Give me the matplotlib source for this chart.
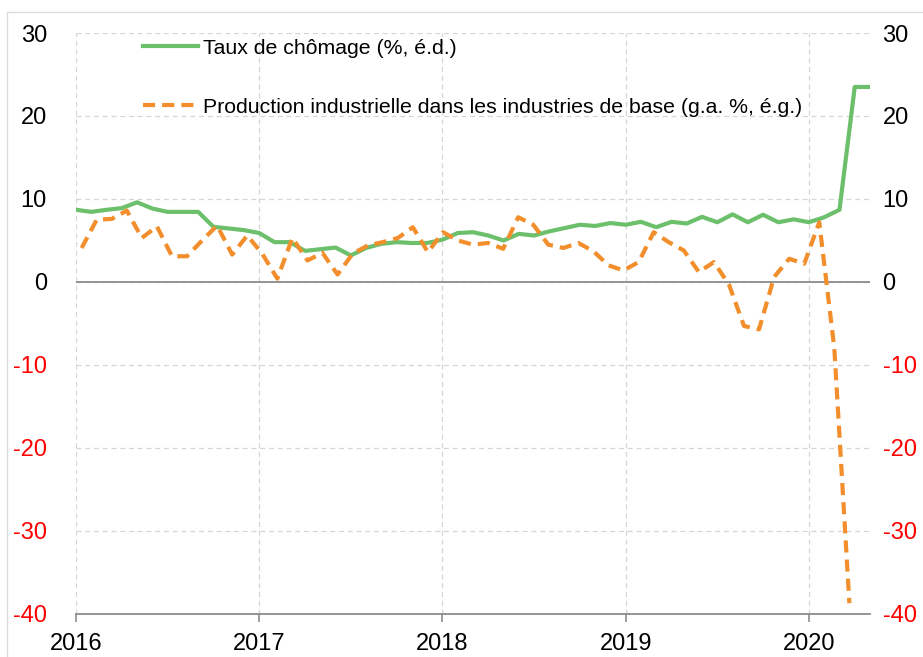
import numpy as np
import matplotlib
matplotlib.use('Agg')
import matplotlib.pyplot as plt
from matplotlib.patches import Rectangle

plt.rcParams['font.family'] = ['Liberation Sans', 'DejaVu Sans']

# monthly, Jan 2016 -> May 2020
chomage = [8.7, 8.45, 8.7, 8.9, 9.6, 8.85, 8.45, 8.45, 8.45, 6.65, 6.45, 6.25,
           5.9, 4.8, 4.8, 3.75, 3.95, 4.15, 3.2, 4.1, 4.6, 4.8, 4.7, 4.7,
           5.1, 5.9, 6.0, 5.6, 5.0, 5.8, 5.6, 6.1, 6.5, 6.9, 6.75, 7.1,
           6.9, 7.25, 6.6, 7.25, 7.05, 7.85, 7.2, 8.15, 7.2, 8.1, 7.2, 7.55,
           7.2, 7.8, 8.7, 23.5, 23.5]

# monthly, Jan 2016 -> Apr 2020 (secondary category axis)
production = [4.1, 7.5, 7.6, 8.6, 5.3, 6.7, 3.1, 3.1, 5.0, 6.8, 3.3, 5.6,
              3.4, 0.4, 5.3, 2.6, 3.5, 0.9, 3.4, 4.4, 4.8, 5.3, 6.6, 3.6,
              6.0, 5.0, 4.5, 4.7, 4.0, 7.8, 6.9, 4.5, 4.1, 4.7, 3.7, 2.0,
              1.4, 2.4, 6.0, 4.8, 3.8, 1.2, 2.4, -0.3, -5.3, -5.7, 0.6, 2.8,
              2.2, 7.2, -8.0, -38.7]

year_labels = ['2016', '2017', '2018', '2019', '2020']
y_ticks = [-40, -30, -20, -10, 0, 10, 20, 30]

label_chomage = 'Taux de chômage (%, é.d.)'
label_prod = 'Production industrielle dans les industries de base (g.a. %, é.g.)'

GREEN = '#6cc06c'
ORANGE = '#f28e2b'
GRID = '#d6d6d6'
FS = 17
FS_LEG = 15.3

fig = plt.figure(figsize=(9.23, 6.57), dpi=100)
fig.patches.append(Rectangle((7 / 923, -0.1), 1.2, 1.1 - 12 / 657,
                             transform=fig.transFigure, fill=False,
                             edgecolor='#dcdcdc', lw=1))

ax = fig.add_axes([76 / 923, 1 - 614 / 657, 794 / 923, 581 / 657])

months = np.arange(len(chomage))
ax.plot(months, chomage, color=GREEN, lw=3, label=label_chomage, zorder=3)
ax.axhline(0, color='#8c8c8c', lw=1.3, zorder=2)

ax.set_xlim(0, 52)
ax.set_ylim(-40, 30)
ax.set_xticks([12 * i for i in range(len(year_labels))])
ax.set_xticklabels(year_labels, fontsize=FS)
ax.set_yticks(y_ticks)
ax.set_yticklabels([str(v) for v in y_ticks], fontsize=FS)
for lab, v in zip(ax.get_yticklabels(), y_ticks):
    lab.set_color('#ff0000' if v < 0 else 'black')

ax.grid(True, color=GRID, linestyle=(0, (4, 3)), lw=0.9)
ax.set_axisbelow(True)
for s in ['top', 'left', 'right']:
    ax.spines[s].set_visible(False)
ax.spines['bottom'].set_color('#8c8c8c')
ax.spines['bottom'].set_linewidth(1.3)
ax.tick_params(axis='y', length=0, pad=21)
ax.tick_params(axis='x', length=6, color='#8c8c8c', width=1.2, pad=8)

# right-hand labels (same scale)
ax_r = ax.twinx()
ax_r.set_ylim(-40, 30)
ax_r.set_yticks(y_ticks)
ax_r.set_yticklabels([str(v) for v in y_ticks], fontsize=FS)
for lab, v in zip(ax_r.get_yticklabels(), y_ticks):
    lab.set_color('#ff0000' if v < 0 else 'black')
ax_r.tick_params(axis='y', length=0, pad=9)
for s in ax_r.spines.values():
    s.set_visible(False)

# orange series on its own category axis
ax_o = ax.twiny()
idx = np.arange(len(production))
ax_o.plot(idx, production, color=ORANGE, lw=3, dashes=(2.9, 1.7),
          label=label_prod, zorder=4)
ax_o.set_xlim(-0.375, 52.37)
ax_o.set_xticks([])
for s in ax_o.spines.values():
    s.set_visible(False)

h1, l1 = ax.get_legend_handles_labels()
h2, l2 = ax_o.get_legend_handles_labels()
ax_o.legend(h1 + h2, l1 + l2, loc='upper left', bbox_to_anchor=(0.084, 0.99),
            frameon=False, fontsize=FS_LEG, borderpad=0, borderaxespad=0,
            handlelength=2.6, handletextpad=0.24, labelspacing=1.87)

fig.savefig('out.png', dpi=100)
